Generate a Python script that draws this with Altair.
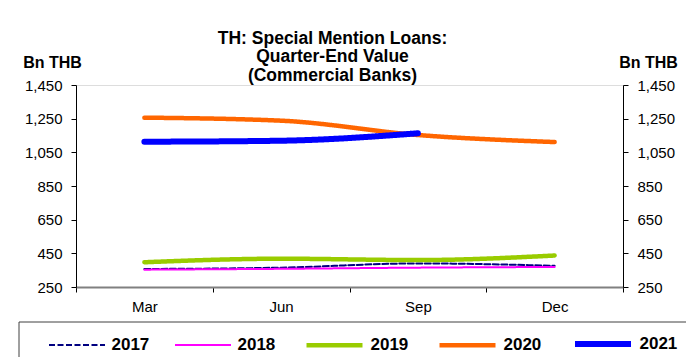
import altair as alt
import pandas as pd

months = ["Mar", "Jun", "Sep", "Dec"]
years = ["2017", "2018", "2019", "2020", "2021"]
v2017 = [357, 365, 390, 376]
v2018 = [353, 358, 365, 369]
v2019 = [397, 418, 410, 437]
v2020 = [1256, 1238, 1153, 1111]
v2021 = [1113, 1119, 1163, None]
colors = ["#000080", "#FF00FF", "#99CC00", "#FF6600", "#0000FF"]
widths = [2, 2, 4.5, 4.5, 6]
dashes = [[6, 2.5], [1, 0], [1, 0], [1, 0], [1, 0]]
y_ticks = [250, 450, 650, 850, 1050, 1250, 1450]

series = dict(zip(years, [v2017, v2018, v2019, v2020, v2021]))
rows = []
for yr, vals in series.items():
    for m, v in zip(months, vals):
        if v is not None:
            rows.append({"month": m, "year": yr, "value": v})
df = pd.DataFrame(rows)

FONT = "Liberation Sans"

x_enc = alt.X(
    "month:N", sort=months,
    scale=alt.Scale(type="band", paddingInner=0, paddingOuter=0),
    axis=alt.Axis(title=None, tickBand="extent", labelAngle=0, labelFontSize=15,
                  labelColor="black", labelFont=FONT, domainColor="#808080",
                  domainWidth=2, tickColor="black", tickSize=5, labelPadding=7),
)
y_scale = alt.Scale(domain=[250, 1450], nice=False, zero=False)

def y_axis(orient, tx):
    return alt.Axis(
        orient=orient, values=y_ticks, format=",.0f", grid=False,
        title="Bn THB", titleAngle=0, titleX=tx, titleY=-23, titleAlign="center",
        titleBaseline="middle", titleFontSize=16, titleFontWeight="bold",
        titleFont=FONT, titleColor="black",
        labelFontSize=15, labelFont=FONT, labelColor="black", labelPadding=9,
        domainColor="black", tickColor="black", tickSize=5,
    )

leg = alt.Legend(title=None, orient="none", legendX=-28, legendY=228,
                 direction="horizontal", symbolType="stroke",
                 symbolSize=3136, labelFontSize=17,
                 labelFontWeight="bold", labelColor="black",
                 labelFont=FONT, columnPadding=21, labelOffset=5.5,
                 padding=0)

lines = alt.Chart(df).mark_line(interpolate="monotone", strokeCap="round").encode(
    x=x_enc,
    y=alt.Y("value:Q", scale=y_scale, axis=y_axis("left", -24)),
    color=alt.Color("year:N", scale=alt.Scale(domain=years, range=colors), legend=leg),
    strokeWidth=alt.StrokeWidth("year:N", scale=alt.Scale(type="ordinal", domain=years, range=widths), legend=leg),
    strokeDash=alt.StrokeDash("year:N", scale=alt.Scale(type="ordinal", domain=years, range=dashes), legend=leg),
)

right = alt.Chart(df).mark_line(strokeOpacity=0).encode(
    x=x_enc,
    y=alt.Y("value:Q", scale=y_scale, axis=y_axis("right", 25)),
)

one = pd.DataFrame({"a": [0]})
legend_box = alt.Chart(one).mark_rect(fill=None, stroke="#404040", strokeWidth=1).encode(
    x=alt.value(-57), x2=alt.value(620), y=alt.value(237), y2=alt.value(300)
)

chart = alt.layer(lines, right, legend_box).resolve_axis(y="independent").properties(
    width=547, height=202,
    title=alt.Title(["TH: Special Mention Loans:", "Quarter-End Value", "(Commercial Banks)"],
                    fontSize=17.5, fontWeight="bold", font=FONT, color="black",
                    anchor="middle", frame="group", offset=-30, dx=-17, lineHeight=18.5),
    autosize=alt.AutoSizeParams(type="none"),
    padding={"left": 68, "top": 77, "right": 63, "bottom": 70},
).configure_view(stroke=None).configure(font=FONT)

chart.save("out.html", embed_options={"renderer": "svg", "actions": False})
